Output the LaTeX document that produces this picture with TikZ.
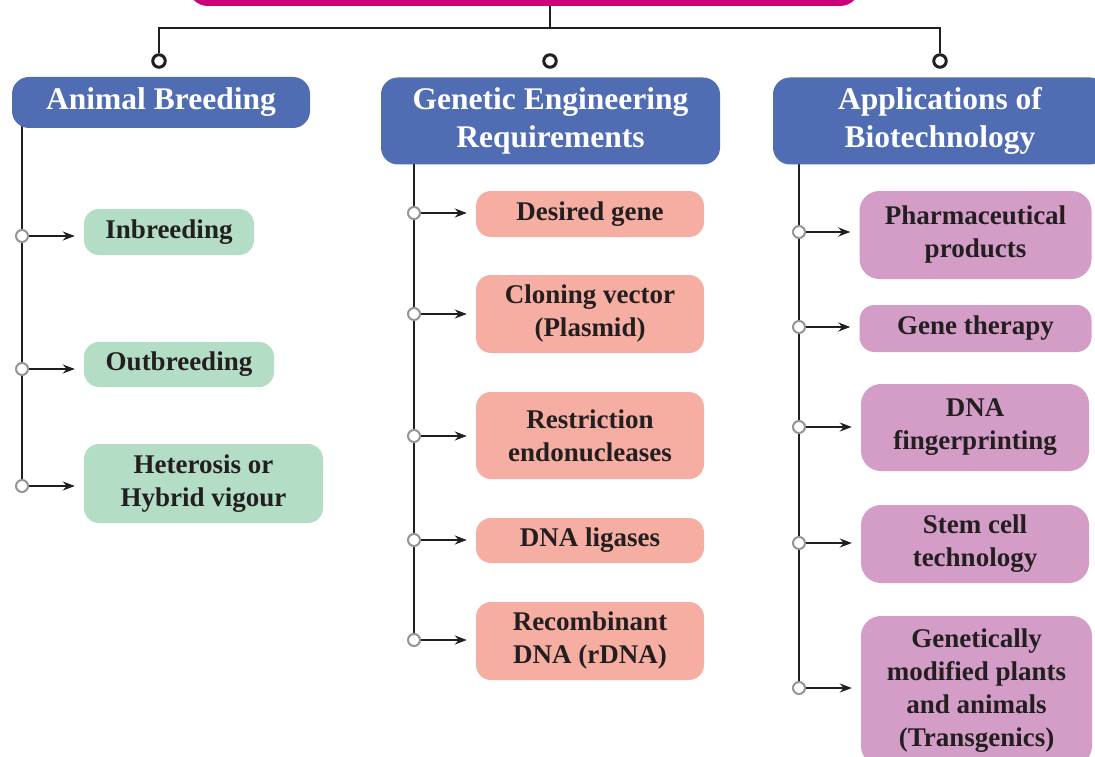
\documentclass[tikz,border=0pt]{standalone}
\usepackage{fontspec}
\setmainfont{Liberation Serif}
\usetikzlibrary{arrows.meta,backgrounds}
\definecolor{hdrblue}{HTML}{506DB4}
\definecolor{mag}{HTML}{CC007A}
\definecolor{grn}{HTML}{B3DDC4}
\definecolor{sal}{HTML}{F7AEA2}
\definecolor{pur}{HTML}{D49DC8}
\definecolor{ink}{HTML}{231F20}
\definecolor{dotgray}{HTML}{939598}
\tikzset{
  hdr/.style={fill=hdrblue, rounded corners=17pt, inner sep=0pt, text=white,
    font=\fontsize{31.5}{38}\selectfont\bfseries, align=center},
  leaf/.style={rounded corners=15pt, inner sep=0pt, text=ink,
    font=\fontsize{27}{33}\selectfont\bfseries, align=center},
  topdot/.style={circle, draw=ink, line width=3pt, fill=white, minimum size=12.5pt, inner sep=0pt},
  gdot/.style={circle, draw=dotgray, line width=2pt, fill=white, minimum size=12pt, inner sep=0pt},
  link/.style={draw=ink, line width=2pt},
  arr/.style={draw=ink, line width=1.7pt, -{Stealth[length=12pt,width=9pt]}, shorten >=9pt}
}
\begin{document}
\begin{tikzpicture}[x=1pt,y=-1pt]
\clip (0,0) rectangle (1095,757);
% root box (cut off at top)
\node[fill=mag, rounded corners=20pt, minimum width=672pt, minimum height=60pt, inner sep=0pt] (root) at (524,-24) {};
% top dots
\node[topdot] (ta) at (159,61) {};
\node[topdot] (tg) at (550,61) {};
\node[topdot] (tp) at (940,61) {};
\coordinate (bar) at (550,28);
% headers
\node[hdr, minimum width=298pt, minimum height=51pt] (hAB) at (161,102.5) {Animal Breeding};
\node[hdr, minimum width=339pt, minimum height=87pt] (hGE) at (550.5,121) {Genetic Engineering\\Requirements};
\node[hdr, minimum width=334pt, minimum height=87pt] (hAP) at (940,121) {Applications of\\Biotechnology};
% green leaves
\node[leaf, fill=grn, minimum width=170pt, minimum height=46pt] (inb) at (169,232) {Inbreeding};
\node[leaf, fill=grn, minimum width=190pt, minimum height=45pt] (outb) at (179,364.5) {Outbreeding};
\node[leaf, fill=grn, minimum width=239pt, minimum height=79pt] (het) at (203.5,483.5) {Heterosis or\\Hybrid vigour};
% salmon leaves
\node[leaf, fill=sal, minimum width=228pt, minimum height=46pt] (des) at (590,214) {Desired gene};
\node[leaf, fill=sal, minimum width=228pt, minimum height=78pt] (clo) at (590,314) {Cloning vector\\(Plasmid)};
\node[leaf, fill=sal, minimum width=228pt, minimum height=87pt] (res) at (590,435.5) {Restriction\\endonucleases};
\node[leaf, fill=sal, minimum width=228pt, minimum height=45pt] (lig) at (590,540.5) {DNA ligases};
\node[leaf, fill=sal, minimum width=228pt, minimum height=78pt] (rec) at (590,641) {Recombinant\\DNA (rDNA)};
% purple leaves
\node[leaf, fill=pur, rounded corners=20pt, minimum width=232pt, minimum height=88pt] (pha) at (975.5,235) {Pharmaceutical\\products};
\node[leaf, fill=pur, minimum width=232pt, minimum height=47pt] (gth) at (975.5,328.5) {Gene therapy};
\node[leaf, fill=pur, rounded corners=20pt, minimum width=228pt, minimum height=87pt] (dna) at (975,427.5) {DNA\\fingerprinting};
\node[leaf, fill=pur, rounded corners=20pt, minimum width=228pt, minimum height=78pt] (stem) at (975,544) {Stem cell\\technology};
\node[leaf, fill=pur, rounded corners=20pt, minimum width=231pt, minimum height=150pt] (gm) at (976.5,691) {Genetically\\modified plants\\and animals\\(Transgenics)};
% branch dots
\node[gdot] (a1) at (22,236) {};
\node[gdot] (a2) at (22,369) {};
\node[gdot] (a3) at (22,486) {};
\node[gdot] (g1) at (414,213) {};
\node[gdot] (g2) at (414,314) {};
\node[gdot] (g3) at (414,436) {};
\node[gdot] (g4) at (414,540) {};
\node[gdot] (g5) at (414,640) {};
\node[gdot] (p1) at (799,232) {};
\node[gdot] (p2) at (799,327) {};
\node[gdot] (p3) at (799,427) {};
\node[gdot] (p4) at (799,543) {};
\node[gdot] (p5) at (799,688) {};
% lines behind nodes
\begin{scope}[on background layer]
\fill[white] (0,0) rectangle (1095,757);
\draw[link] (root.center -| bar) -- (bar);
\draw[link] (ta) |- (bar) -| (tp);
\draw[link] (a3) -- (a3 |- hAB.center);
\draw[link] (g5) -- (g5 |- hGE.center);
\draw[link] (p5) -- (p5 |- hAP.center);
\end{scope}
% arrows
\draw[arr] (a1) -- (a1 -| inb.west);
\draw[arr] (a2) -- (a2 -| outb.west);
\draw[arr] (a3) -- (a3 -| het.west);
\draw[arr] (g1) -- (g1 -| des.west);
\draw[arr] (g2) -- (g2 -| clo.west);
\draw[arr] (g3) -- (g3 -| res.west);
\draw[arr] (g4) -- (g4 -| lig.west);
\draw[arr] (g5) -- (g5 -| rec.west);
\draw[arr] (p1) -- (p1 -| pha.west);
\draw[arr] (p2) -- (p2 -| gth.west);
\draw[arr] (p3) -- (p3 -| dna.west);
\draw[arr] (p4) -- (p4 -| stem.west);
\draw[arr] (p5) -- (p5 -| gm.west);
\end{tikzpicture}
\end{document}
